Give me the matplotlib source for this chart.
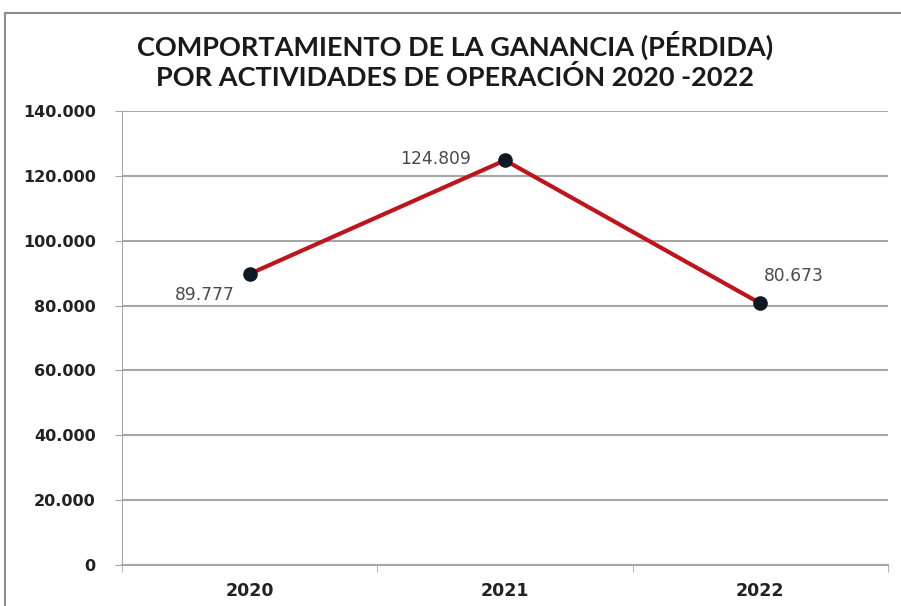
import matplotlib
matplotlib.use("Agg")
import matplotlib.pyplot as plt
from matplotlib.ticker import FuncFormatter, FixedLocator, NullFormatter
from matplotlib.patches import Rectangle

# === DATOS ===
years = ["2020", "2021", "2022"]
ganancia = [89777, 124809, 80673]
y_ticks = [0, 20000, 40000, 60000, 80000, 100000, 120000, 140000]
title = "COMPORTAMIENTO DE LA GANANCIA (PÉRDIDA)\nPOR ACTIVIDADES DE OPERACIÓN 2020 -2022"

# offsets de las etiquetas (puntos)
label_offsets = [(-32, -15), (-50, 1), (24, 20)]

plt.rcParams["font.family"] = ["DejaVu Sans"]


def miles(v, pos=None):
    # separador de miles con punto
    return f"{int(round(v)):,}".replace(",", ".")


fig = plt.figure(figsize=(9.01, 6.06), dpi=100)
ax = fig.add_axes([122 / 901, 1 - 565 / 606, (888 - 122) / 901, (565 - 111) / 606])

# marco exterior del gráfico
fig.patches.append(Rectangle((5 / 901, -0.1), 1.2, 1.1 - 13 / 606,
                             transform=fig.transFigure, fill=False,
                             edgecolor="#8c8c8c", linewidth=1.5))

x = list(range(len(years)))
ax.plot(x, ganancia, color="#c0141c", linewidth=3, zorder=3)
ax.plot(x, ganancia, "o", color="#0d1a24", markersize=9.5, zorder=4)

for i, v in enumerate(ganancia):
    ax.annotate(miles(v), (i, v), xytext=label_offsets[i], textcoords="offset points",
                ha="center", va="center", fontsize=12.3, color="#4a4a4a")

ax.set_xlim(-0.5, len(years) - 0.5)
ax.set_ylim(0, 140000)
ax.set_yticks(y_ticks)
ax.yaxis.set_major_formatter(FuncFormatter(miles))
ax.set_xticks(x)
ax.set_xticklabels(years)
ax.xaxis.set_minor_locator(FixedLocator([-0.5, 0.5, 1.5, 2.5]))
ax.xaxis.set_minor_formatter(NullFormatter())

ax.grid(axis="y", color="#a6a6a6", linewidth=1.5)
ax.set_axisbelow(True)
for side in ["top", "right"]:
    ax.spines[side].set_visible(False)
ax.spines["left"].set_color("#a6a6a6")
ax.spines["bottom"].set_color("#a6a6a6")
ax.spines["bottom"].set_linewidth(1.5)

ax.tick_params(axis="y", length=5, color="#a6a6a6", labelsize=11.5, pad=14,
               labelcolor="#222222")
ax.tick_params(axis="x", which="major", length=0, labelsize=12.5, pad=12,
               labelcolor="#222222")
ax.tick_params(axis="x", which="minor", length=5, color="#a6a6a6")
for lbl in ax.get_xticklabels() + ax.get_yticklabels():
    lbl.set_fontweight("bold")

fig.text(455 / 901, 1 - 60 / 606, title, ha="center", va="center",
         fontsize=19.5, fontweight="bold", linespacing=1.25, color="#1a1a1a",
         family=["Lato", "DejaVu Sans"])

fig.savefig("out.png", dpi=100)
